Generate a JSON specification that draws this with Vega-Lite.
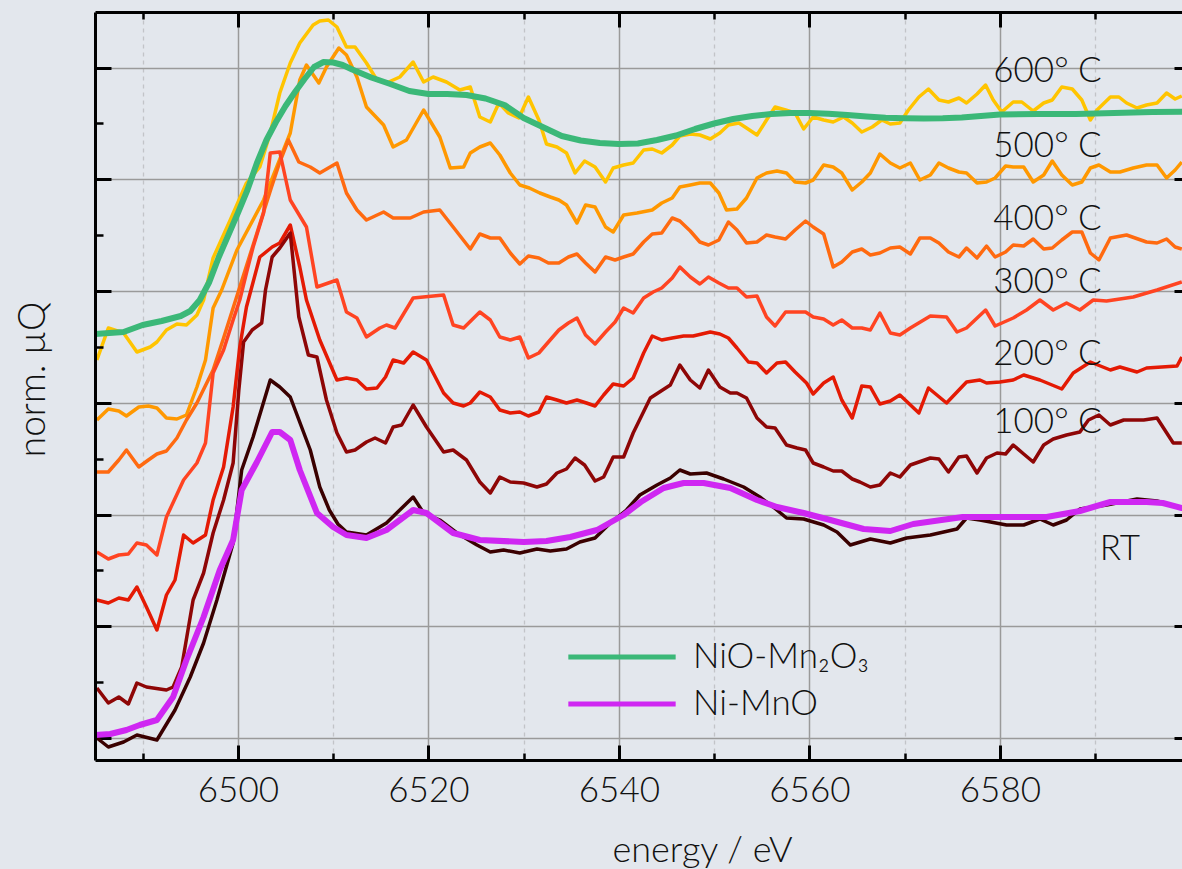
{
"$schema":"https://vega.github.io/schema/vega-lite/v6.json",
"width":1087,"height":748,
"autosize":{"type":"none"},
"padding":{"left":95,"top":12,"right":0,"bottom":109},
"background":"#e3e7ed",
"config":{"view":{"stroke":null},"font":"Lato","axis":{"labelFont":"Lato","titleFont":"Lato","titleFontWeight":300,"labelFontWeight":300,"labelColor":"#111111","titleColor":"#111111","tickColor":"#000000","domainColor":"#000000"},"legend":{"labelFont":"Lato","labelFontWeight":300}},
"datasets":{
"t600":[{"e":6485.2,"v":4.00},{"e":6486.4,"v":4.32},{"e":6488,"v":4.27},{"e":6489.4,"v":4.08},{"e":6490.8,"v":4.13},{"e":6491.5,"v":4.18},{"e":6492.5,"v":4.30},{"e":6493.6,"v":4.36},{"e":6494.6,"v":4.35},{"e":6495.7,"v":4.45},{"e":6496.4,"v":4.60},{"e":6497.4,"v":5.02},{"e":6499.2,"v":5.40},{"e":6500.9,"v":5.77},{"e":6502.3,"v":5.93},{"e":6503.4,"v":6.27},{"e":6504.4,"v":6.67},{"e":6505.5,"v":6.97},{"e":6506.5,"v":7.17},{"e":6507.9,"v":7.35},{"e":6508.6,"v":7.39},{"e":6509.5,"v":7.40},{"e":6510.4,"v":7.33},{"e":6511.4,"v":7.13},{"e":6512.3,"v":7.13},{"e":6513.5,"v":6.97},{"e":6514.6,"v":6.80},{"e":6515.6,"v":6.77},{"e":6517,"v":6.83},{"e":6518.4,"v":6.98},{"e":6519.5,"v":6.78},{"e":6520.5,"v":6.83},{"e":6521.9,"v":6.78},{"e":6523.3,"v":6.70},{"e":6524.4,"v":6.73},{"e":6525.4,"v":6.43},{"e":6526.5,"v":6.38},{"e":6527.4,"v":6.57},{"e":6528.4,"v":6.47},{"e":6529.5,"v":6.42},{"e":6530.5,"v":6.63},{"e":6531.6,"v":6.40},{"e":6532.4,"v":6.16},{"e":6533.5,"v":6.13},{"e":6534.5,"v":6.07},{"e":6535.4,"v":5.87},{"e":6536.4,"v":5.99},{"e":6537.5,"v":5.93},{"e":6538.6,"v":5.78},{"e":6539.4,"v":5.92},{"e":6540.5,"v":5.95},{"e":6541.5,"v":5.97},{"e":6542.6,"v":6.10},{"e":6543.5,"v":6.11},{"e":6544.5,"v":6.07},{"e":6545.6,"v":6.15},{"e":6546.4,"v":6.24},{"e":6547.5,"v":6.26},{"e":6548.5,"v":6.25},{"e":6549.6,"v":6.21},{"e":6550.6,"v":6.27},{"e":6551.5,"v":6.35},{"e":6552.6,"v":6.37},{"e":6553.4,"v":6.32},{"e":6554.5,"v":6.25},{"e":6555.5,"v":6.40},{"e":6556.4,"v":6.53},{"e":6557.5,"v":6.50},{"e":6558.5,"v":6.47},{"e":6559.4,"v":6.31},{"e":6560.4,"v":6.43},{"e":6561.5,"v":6.40},{"e":6562.5,"v":6.38},{"e":6563.6,"v":6.43},{"e":6564.5,"v":6.37},{"e":6565.5,"v":6.28},{"e":6566.6,"v":6.33},{"e":6567.6,"v":6.40},{"e":6568.5,"v":6.36},{"e":6569.5,"v":6.37},{"e":6570.4,"v":6.50},{"e":6571.5,"v":6.63},{"e":6572.5,"v":6.71},{"e":6573.6,"v":6.60},{"e":6574.6,"v":6.58},{"e":6575.7,"v":6.62},{"e":6576.5,"v":6.57},{"e":6577.6,"v":6.66},{"e":6578.5,"v":6.75},{"e":6579.3,"v":6.60},{"e":6580.2,"v":6.48},{"e":6581.4,"v":6.58},{"e":6582.3,"v":6.58},{"e":6583.5,"v":6.49},{"e":6584.6,"v":6.57},{"e":6585.5,"v":6.60},{"e":6586.5,"v":6.73},{"e":6587.6,"v":6.71},{"e":6588.6,"v":6.60},{"e":6589.5,"v":6.40},{"e":6590.2,"v":6.50},{"e":6591.6,"v":6.63},{"e":6592.5,"v":6.63},{"e":6593.3,"v":6.57},{"e":6594.4,"v":6.52},{"e":6595.4,"v":6.55},{"e":6596.5,"v":6.57},{"e":6597.5,"v":6.67},{"e":6598.4,"v":6.61},{"e":6599.1,"v":6.64}],
"t500":[{"e":6485.2,"v":3.40},{"e":6486.4,"v":3.51},{"e":6487.5,"v":3.49},{"e":6488.3,"v":3.44},{"e":6489.6,"v":3.53},{"e":6490.6,"v":3.54},{"e":6491.5,"v":3.52},{"e":6492.5,"v":3.42},{"e":6493.6,"v":3.41},{"e":6494.6,"v":3.45},{"e":6495.7,"v":3.73},{"e":6496.6,"v":4.00},{"e":6497.4,"v":4.52},{"e":6498.3,"v":4.70},{"e":6499.9,"v":5.10},{"e":6502.7,"v":5.60},{"e":6505.5,"v":6.27},{"e":6506.5,"v":6.80},{"e":6507.2,"v":6.95},{"e":6508.5,"v":6.77},{"e":6509.3,"v":6.93},{"e":6510.6,"v":7.12},{"e":6511.4,"v":7.05},{"e":6512.5,"v":6.83},{"e":6513.5,"v":6.53},{"e":6515.3,"v":6.35},{"e":6516.3,"v":6.13},{"e":6517.7,"v":6.20},{"e":6519.5,"v":6.50},{"e":6521.2,"v":6.23},{"e":6522.3,"v":5.92},{"e":6523.7,"v":5.93},{"e":6524.4,"v":6.07},{"e":6525.4,"v":6.13},{"e":6526.5,"v":6.17},{"e":6527.5,"v":6.05},{"e":6528.6,"v":5.87},{"e":6529.6,"v":5.75},{"e":6530.6,"v":5.72},{"e":6531.7,"v":5.67},{"e":6532.8,"v":5.63},{"e":6533.7,"v":5.60},{"e":6534.5,"v":5.55},{"e":6535.6,"v":5.37},{"e":6536.5,"v":5.55},{"e":6537.5,"v":5.53},{"e":6538.6,"v":5.33},{"e":6539.4,"v":5.28},{"e":6540.5,"v":5.45},{"e":6541.9,"v":5.47},{"e":6543.5,"v":5.50},{"e":6544.5,"v":5.57},{"e":6545.6,"v":5.62},{"e":6546.4,"v":5.73},{"e":6547.5,"v":5.75},{"e":6548.5,"v":5.77},{"e":6549.6,"v":5.77},{"e":6550.5,"v":5.67},{"e":6551.3,"v":5.50},{"e":6552.4,"v":5.51},{"e":6553.4,"v":5.62},{"e":6554.5,"v":5.82},{"e":6555.5,"v":5.87},{"e":6556.6,"v":5.89},{"e":6557.6,"v":5.87},{"e":6558.5,"v":5.78},{"e":6559.6,"v":5.77},{"e":6560.4,"v":5.80},{"e":6561.5,"v":5.95},{"e":6562.5,"v":5.93},{"e":6563.4,"v":5.87},{"e":6564.5,"v":5.70},{"e":6565.5,"v":5.78},{"e":6566.4,"v":5.87},{"e":6567.4,"v":6.06},{"e":6568.5,"v":5.97},{"e":6569.5,"v":5.92},{"e":6570.6,"v":5.97},{"e":6571.6,"v":5.80},{"e":6572.7,"v":5.85},{"e":6573.6,"v":5.97},{"e":6574.6,"v":5.92},{"e":6575.7,"v":5.88},{"e":6576.5,"v":5.87},{"e":6577.6,"v":5.77},{"e":6578.6,"v":5.78},{"e":6579.5,"v":5.82},{"e":6580.6,"v":5.94},{"e":6581.4,"v":5.93},{"e":6582.5,"v":5.93},{"e":6583.5,"v":5.78},{"e":6584.6,"v":5.85},{"e":6585.5,"v":5.99},{"e":6586.5,"v":5.85},{"e":6587.6,"v":5.75},{"e":6588.6,"v":5.78},{"e":6589.5,"v":5.92},{"e":6590.4,"v":5.95},{"e":6591.6,"v":5.88},{"e":6592.6,"v":5.88},{"e":6594,"v":5.92},{"e":6595.4,"v":5.95},{"e":6596.5,"v":5.95},{"e":6597.5,"v":5.82},{"e":6598.4,"v":5.90},{"e":6599.1,"v":5.98}],
"t400":[{"e":6485.2,"v":2.88},{"e":6486.4,"v":2.88},{"e":6487.5,"v":3.00},{"e":6488.3,"v":3.10},{"e":6489.6,"v":2.93},{"e":6490.6,"v":3.00},{"e":6491.5,"v":3.06},{"e":6492.5,"v":3.09},{"e":6493.6,"v":3.22},{"e":6494.6,"v":3.40},{"e":6495.7,"v":3.57},{"e":6497.4,"v":3.90},{"e":6498.5,"v":4.22},{"e":6499.5,"v":4.52},{"e":6500.5,"v":4.82},{"e":6501.5,"v":5.12},{"e":6502.5,"v":5.42},{"e":6503.5,"v":5.72},{"e":6504.4,"v":5.98},{"e":6505.3,"v":6.20},{"e":6506.4,"v":5.98},{"e":6507.6,"v":5.93},{"e":6508.6,"v":5.87},{"e":6510.4,"v":5.97},{"e":6511.4,"v":5.67},{"e":6512.5,"v":5.50},{"e":6513.5,"v":5.40},{"e":6515.3,"v":5.48},{"e":6516.3,"v":5.42},{"e":6518.1,"v":5.42},{"e":6519.5,"v":5.48},{"e":6521.2,"v":5.50},{"e":6522.6,"v":5.33},{"e":6524.4,"v":5.11},{"e":6525.4,"v":5.26},{"e":6526.5,"v":5.22},{"e":6527.5,"v":5.22},{"e":6528.6,"v":5.07},{"e":6529.6,"v":4.96},{"e":6530.5,"v":5.04},{"e":6531.6,"v":5.02},{"e":6532.6,"v":4.97},{"e":6533.7,"v":4.97},{"e":6534.7,"v":5.03},{"e":6535.6,"v":5.06},{"e":6536.5,"v":4.97},{"e":6537.5,"v":4.88},{"e":6538.6,"v":5.03},{"e":6539.6,"v":5.00},{"e":6540.5,"v":5.03},{"e":6541.5,"v":5.06},{"e":6542.6,"v":5.18},{"e":6543.5,"v":5.26},{"e":6544.5,"v":5.27},{"e":6545.6,"v":5.42},{"e":6546.4,"v":5.39},{"e":6547.5,"v":5.29},{"e":6548.5,"v":5.18},{"e":6549.4,"v":5.15},{"e":6550.5,"v":5.20},{"e":6551.5,"v":5.38},{"e":6552.4,"v":5.30},{"e":6553.4,"v":5.17},{"e":6554.5,"v":5.18},{"e":6555.5,"v":5.25},{"e":6556.4,"v":5.23},{"e":6557.5,"v":5.21},{"e":6558.5,"v":5.30},{"e":6559.6,"v":5.39},{"e":6560.4,"v":5.33},{"e":6561.5,"v":5.26},{"e":6562.5,"v":4.93},{"e":6563.4,"v":4.98},{"e":6564.5,"v":5.08},{"e":6565.5,"v":5.11},{"e":6566.4,"v":5.05},{"e":6567.4,"v":5.07},{"e":6568.5,"v":5.12},{"e":6569.5,"v":5.13},{"e":6570.6,"v":5.06},{"e":6571.6,"v":5.22},{"e":6572.7,"v":5.22},{"e":6573.6,"v":5.17},{"e":6574.6,"v":5.08},{"e":6575.7,"v":5.03},{"e":6576.5,"v":5.12},{"e":6577.6,"v":5.02},{"e":6578.6,"v":5.14},{"e":6579.5,"v":5.03},{"e":6580.6,"v":5.08},{"e":6581.4,"v":5.15},{"e":6582.5,"v":5.14},{"e":6583.5,"v":5.21},{"e":6584.6,"v":5.11},{"e":6585.5,"v":5.12},{"e":6586.5,"v":5.20},{"e":6587.6,"v":5.28},{"e":6588.6,"v":5.28},{"e":6589.5,"v":5.07},{"e":6590.4,"v":5.00},{"e":6591.6,"v":5.22},{"e":6593.3,"v":5.25},{"e":6595.4,"v":5.18},{"e":6596.5,"v":5.17},{"e":6597.5,"v":5.21},{"e":6598.4,"v":5.13},{"e":6599.1,"v":5.11}],
"t300":[{"e":6485.2,"v":2.08},{"e":6486.4,"v":2.01},{"e":6487.5,"v":2.05},{"e":6488.5,"v":2.06},{"e":6489.4,"v":2.17},{"e":6490.4,"v":2.15},{"e":6491.5,"v":2.05},{"e":6492.5,"v":2.43},{"e":6494.3,"v":2.80},{"e":6495.7,"v":2.97},{"e":6496.6,"v":3.17},{"e":6497.4,"v":3.87},{"e":6498.5,"v":4.10},{"e":6499.5,"v":4.40},{"e":6500.2,"v":4.60},{"e":6500.9,"v":4.87},{"e":6501.6,"v":5.13},{"e":6502.7,"v":5.47},{"e":6503.4,"v":6.07},{"e":6504.4,"v":6.08},{"e":6505.5,"v":5.60},{"e":6507.2,"v":5.33},{"e":6508.3,"v":4.73},{"e":6510.4,"v":4.80},{"e":6511.4,"v":4.48},{"e":6512.5,"v":4.42},{"e":6513.5,"v":4.23},{"e":6514.9,"v":4.32},{"e":6515.6,"v":4.35},{"e":6516.5,"v":4.32},{"e":6518.4,"v":4.62},{"e":6521.6,"v":4.65},{"e":6522.6,"v":4.35},{"e":6523.7,"v":4.32},{"e":6525.4,"v":4.48},{"e":6526.5,"v":4.40},{"e":6527.5,"v":4.23},{"e":6528.6,"v":4.20},{"e":6529.6,"v":4.23},{"e":6530.5,"v":4.02},{"e":6531.6,"v":4.07},{"e":6532.6,"v":4.18},{"e":6533.7,"v":4.30},{"e":6534.7,"v":4.37},{"e":6535.6,"v":4.42},{"e":6536.5,"v":4.25},{"e":6537.5,"v":4.16},{"e":6538.6,"v":4.28},{"e":6539.6,"v":4.38},{"e":6540.5,"v":4.52},{"e":6541.5,"v":4.47},{"e":6542.6,"v":4.62},{"e":6543.6,"v":4.68},{"e":6544.5,"v":4.72},{"e":6545.6,"v":4.82},{"e":6546.4,"v":4.93},{"e":6547.5,"v":4.83},{"e":6548.5,"v":4.76},{"e":6549.4,"v":4.83},{"e":6550.5,"v":4.77},{"e":6551.5,"v":4.72},{"e":6552.4,"v":4.72},{"e":6553.4,"v":4.63},{"e":6554.5,"v":4.64},{"e":6555.5,"v":4.43},{"e":6556.4,"v":4.34},{"e":6557.5,"v":4.48},{"e":6558.5,"v":4.48},{"e":6559.6,"v":4.48},{"e":6560.4,"v":4.43},{"e":6561.5,"v":4.41},{"e":6562.5,"v":4.35},{"e":6563.4,"v":4.40},{"e":6564.5,"v":4.32},{"e":6565.5,"v":4.32},{"e":6566.4,"v":4.30},{"e":6567.4,"v":4.47},{"e":6568.5,"v":4.27},{"e":6569.5,"v":4.25},{"e":6570.6,"v":4.32},{"e":6572.7,"v":4.44},{"e":6574.4,"v":4.43},{"e":6575.5,"v":4.28},{"e":6576.5,"v":4.32},{"e":6578.5,"v":4.50},{"e":6579.5,"v":4.34},{"e":6581.4,"v":4.42},{"e":6582.8,"v":4.50},{"e":6584.2,"v":4.60},{"e":6585.6,"v":4.50},{"e":6587,"v":4.57},{"e":6588.4,"v":4.50},{"e":6589.8,"v":4.60},{"e":6591.2,"v":4.59},{"e":6594,"v":4.63},{"e":6596.5,"v":4.70},{"e":6599.1,"v":4.78}],
"t200":[{"e":6485.2,"v":1.60},{"e":6486.4,"v":1.57},{"e":6487.5,"v":1.62},{"e":6488.5,"v":1.60},{"e":6489.4,"v":1.73},{"e":6490.4,"v":1.53},{"e":6491.5,"v":1.30},{"e":6492.5,"v":1.65},{"e":6493.4,"v":1.80},{"e":6494.3,"v":2.25},{"e":6495.3,"v":2.17},{"e":6496.6,"v":2.25},{"e":6497.4,"v":2.60},{"e":6498.5,"v":2.93},{"e":6499.5,"v":3.53},{"e":6500.2,"v":4.13},{"e":6500.9,"v":4.53},{"e":6502.3,"v":5.03},{"e":6503.6,"v":5.13},{"e":6504.4,"v":5.17},{"e":6505.5,"v":5.35},{"e":6506.5,"v":4.93},{"e":6507.2,"v":4.60},{"e":6508.6,"v":4.20},{"e":6510.4,"v":3.80},{"e":6511.4,"v":3.82},{"e":6512.5,"v":3.80},{"e":6513.5,"v":3.71},{"e":6514.6,"v":3.72},{"e":6515.5,"v":3.83},{"e":6516.3,"v":4.00},{"e":6517.4,"v":3.97},{"e":6518.4,"v":4.08},{"e":6519.8,"v":4.00},{"e":6521.6,"v":3.67},{"e":6522.6,"v":3.57},{"e":6523.7,"v":3.54},{"e":6524.4,"v":3.57},{"e":6525.4,"v":3.68},{"e":6526.5,"v":3.63},{"e":6527.5,"v":3.50},{"e":6528.6,"v":3.47},{"e":6529.6,"v":3.48},{"e":6530.5,"v":3.44},{"e":6531.6,"v":3.48},{"e":6532.4,"v":3.63},{"e":6533.5,"v":3.60},{"e":6534.5,"v":3.57},{"e":6535.6,"v":3.60},{"e":6536.6,"v":3.57},{"e":6537.5,"v":3.54},{"e":6538.4,"v":3.65},{"e":6539.4,"v":3.76},{"e":6540.5,"v":3.74},{"e":6541.5,"v":3.82},{"e":6542.6,"v":4.07},{"e":6543.5,"v":4.24},{"e":6544.5,"v":4.20},{"e":6545.6,"v":4.22},{"e":6546.8,"v":4.24},{"e":6547.8,"v":4.24},{"e":6549.6,"v":4.28},{"e":6550.6,"v":4.26},{"e":6551.5,"v":4.22},{"e":6552.4,"v":4.12},{"e":6553.6,"v":3.98},{"e":6554.5,"v":3.97},{"e":6555.5,"v":3.87},{"e":6556.6,"v":3.97},{"e":6557.5,"v":3.98},{"e":6558.5,"v":3.88},{"e":6559.7,"v":3.77},{"e":6560.4,"v":3.66},{"e":6561.5,"v":3.77},{"e":6562.5,"v":3.83},{"e":6563.4,"v":3.60},{"e":6564.5,"v":3.42},{"e":6565.5,"v":3.74},{"e":6566.4,"v":3.73},{"e":6567.4,"v":3.56},{"e":6568.5,"v":3.59},{"e":6569.5,"v":3.65},{"e":6571.5,"v":3.47},{"e":6572.5,"v":3.72},{"e":6574.4,"v":3.57},{"e":6576.5,"v":3.78},{"e":6577.9,"v":3.80},{"e":6578.6,"v":3.77},{"e":6580,"v":3.78},{"e":6581.4,"v":3.80},{"e":6582.5,"v":3.85},{"e":6584.2,"v":3.80},{"e":6586.5,"v":3.71},{"e":6587.7,"v":3.87},{"e":6589.5,"v":3.98},{"e":6591.6,"v":3.90},{"e":6592.6,"v":3.93},{"e":6594.4,"v":3.88},{"e":6595.4,"v":3.92},{"e":6598.6,"v":3.94},{"e":6599.1,"v":4.03}],
"t100":[{"e":6485.2,"v":0.72},{"e":6486.4,"v":0.57},{"e":6487.5,"v":0.63},{"e":6488.5,"v":0.56},{"e":6489.4,"v":0.77},{"e":6490.4,"v":0.73},{"e":6492.5,"v":0.70},{"e":6493.2,"v":0.73},{"e":6494.1,"v":0.93},{"e":6495.3,"v":1.60},{"e":6496.4,"v":1.87},{"e":6497.4,"v":2.27},{"e":6498.5,"v":2.60},{"e":6499.5,"v":2.97},{"e":6500.1,"v":3.70},{"e":6500.6,"v":4.18},{"e":6501.5,"v":4.30},{"e":6502.5,"v":4.37},{"e":6502.9,"v":4.70},{"e":6503.6,"v":5.03},{"e":6504.4,"v":5.12},{"e":6505.5,"v":5.27},{"e":6506.4,"v":4.43},{"e":6507.4,"v":4.05},{"e":6508.3,"v":4.03},{"e":6509.3,"v":3.60},{"e":6510.4,"v":3.27},{"e":6511.4,"v":3.08},{"e":6512.3,"v":3.10},{"e":6513.5,"v":3.18},{"e":6514.4,"v":3.22},{"e":6515.5,"v":3.17},{"e":6516.3,"v":3.33},{"e":6517.2,"v":3.35},{"e":6518.4,"v":3.55},{"e":6519.8,"v":3.33},{"e":6521.6,"v":3.08},{"e":6522.6,"v":3.10},{"e":6524,"v":3.00},{"e":6525.4,"v":2.78},{"e":6526.5,"v":2.67},{"e":6527.5,"v":2.83},{"e":6528.6,"v":2.78},{"e":6530,"v":2.77},{"e":6531.4,"v":2.73},{"e":6532.4,"v":2.76},{"e":6533.5,"v":2.87},{"e":6534.5,"v":2.91},{"e":6535.4,"v":3.02},{"e":6536.4,"v":2.95},{"e":6537.5,"v":2.79},{"e":6538.4,"v":2.83},{"e":6539.4,"v":3.03},{"e":6540.5,"v":3.03},{"e":6541.5,"v":3.27},{"e":6543.3,"v":3.62},{"e":6545.4,"v":3.75},{"e":6546.4,"v":3.95},{"e":6547.5,"v":3.80},{"e":6548.5,"v":3.72},{"e":6549.4,"v":3.90},{"e":6550.6,"v":3.73},{"e":6551.7,"v":3.67},{"e":6552.4,"v":3.67},{"e":6553.4,"v":3.62},{"e":6554.5,"v":3.42},{"e":6555.5,"v":3.33},{"e":6556.4,"v":3.32},{"e":6557.6,"v":3.15},{"e":6558.7,"v":3.12},{"e":6559.6,"v":3.10},{"e":6560.4,"v":2.97},{"e":6561.5,"v":2.93},{"e":6562.5,"v":2.89},{"e":6563.4,"v":2.89},{"e":6564.5,"v":2.81},{"e":6565.3,"v":2.78},{"e":6566.4,"v":2.73},{"e":6567.4,"v":2.75},{"e":6568.5,"v":2.87},{"e":6569.5,"v":2.83},{"e":6570.6,"v":2.95},{"e":6572.7,"v":3.02},{"e":6573.6,"v":3.01},{"e":6574.6,"v":2.88},{"e":6575.7,"v":3.03},{"e":6576.5,"v":3.04},{"e":6577.6,"v":2.87},{"e":6578.6,"v":3.02},{"e":6579.7,"v":3.07},{"e":6580.6,"v":3.06},{"e":6581.4,"v":3.15},{"e":6582.5,"v":3.06},{"e":6583.5,"v":2.98},{"e":6584.6,"v":3.15},{"e":6585.6,"v":3.21},{"e":6587,"v":3.25},{"e":6588.4,"v":3.28},{"e":6589.3,"v":3.40},{"e":6590.4,"v":3.45},{"e":6591.6,"v":3.35},{"e":6593,"v":3.40},{"e":6595.1,"v":3.40},{"e":6596.5,"v":3.42},{"e":6598.2,"v":3.17},{"e":6599.1,"v":3.17}],
"rt":[{"e":6485.2,"v":0.22},{"e":6486.4,"v":0.13},{"e":6488,"v":0.18},{"e":6489.4,"v":0.25},{"e":6491.5,"v":0.20},{"e":6493.4,"v":0.50},{"e":6495,"v":0.83},{"e":6496.4,"v":1.17},{"e":6497.8,"v":1.60},{"e":6499.5,"v":2.17},{"e":6500.4,"v":2.90},{"e":6501.6,"v":3.23},{"e":6503.4,"v":3.80},{"e":6504.4,"v":3.73},{"e":6505.5,"v":3.63},{"e":6507.6,"v":3.10},{"e":6508.6,"v":2.73},{"e":6509.6,"v":2.50},{"e":6510.5,"v":2.36},{"e":6511.4,"v":2.28},{"e":6513.5,"v":2.25},{"e":6515.6,"v":2.37},{"e":6518.4,"v":2.63},{"e":6519.5,"v":2.47},{"e":6521.2,"v":2.40},{"e":6523,"v":2.27},{"e":6525.1,"v":2.15},{"e":6526.5,"v":2.08},{"e":6527.9,"v":2.10},{"e":6529.6,"v":2.07},{"e":6531.4,"v":2.11},{"e":6532.8,"v":2.09},{"e":6534.5,"v":2.11},{"e":6535.9,"v":2.18},{"e":6537.5,"v":2.22},{"e":6539.1,"v":2.37},{"e":6540.8,"v":2.50},{"e":6542.2,"v":2.65},{"e":6544,"v":2.75},{"e":6545.4,"v":2.82},{"e":6546.4,"v":2.90},{"e":6547.5,"v":2.86},{"e":6549.2,"v":2.87},{"e":6551,"v":2.81},{"e":6553.1,"v":2.73},{"e":6554.8,"v":2.63},{"e":6556.2,"v":2.53},{"e":6557.6,"v":2.42},{"e":6559.4,"v":2.41},{"e":6561.5,"v":2.35},{"e":6562.9,"v":2.28},{"e":6564.3,"v":2.15},{"e":6566.4,"v":2.21},{"e":6568.5,"v":2.17},{"e":6570.2,"v":2.22},{"e":6572.7,"v":2.25},{"e":6575.5,"v":2.31},{"e":6576.5,"v":2.42},{"e":6577.9,"v":2.40},{"e":6580.7,"v":2.35},{"e":6582.5,"v":2.35},{"e":6584.2,"v":2.41},{"e":6585.6,"v":2.35},{"e":6587,"v":2.40},{"e":6588.4,"v":2.51},{"e":6591.2,"v":2.55},{"e":6594.4,"v":2.61},{"e":6596.5,"v":2.59},{"e":6599.1,"v":2.52}],
"nio":[{"e":6485,"v":4.26},{"e":6488,"v":4.28},{"e":6490,"v":4.35},{"e":6492,"v":4.39},{"e":6494,"v":4.44},{"e":6495,"v":4.49},{"e":6496,"v":4.60},{"e":6497,"v":4.78},{"e":6498,"v":5.03},{"e":6499,"v":5.25},{"e":6500,"v":5.47},{"e":6501,"v":5.70},{"e":6502,"v":5.97},{"e":6503,"v":6.20},{"e":6504,"v":6.38},{"e":6505,"v":6.54},{"e":6506,"v":6.68},{"e":6507,"v":6.81},{"e":6508,"v":6.93},{"e":6509,"v":6.98},{"e":6510,"v":6.975},{"e":6511,"v":6.95},{"e":6512,"v":6.905},{"e":6514,"v":6.825},{"e":6516,"v":6.76},{"e":6518,"v":6.69},{"e":6520,"v":6.66},{"e":6522,"v":6.66},{"e":6524,"v":6.65},{"e":6526,"v":6.615},{"e":6528,"v":6.55},{"e":6530,"v":6.42},{"e":6532,"v":6.33},{"e":6534,"v":6.24},{"e":6536,"v":6.195},{"e":6538,"v":6.17},{"e":6540,"v":6.16},{"e":6542,"v":6.165},{"e":6544,"v":6.20},{"e":6546,"v":6.245},{"e":6548,"v":6.31},{"e":6550,"v":6.365},{"e":6552,"v":6.41},{"e":6554,"v":6.44},{"e":6556,"v":6.46},{"e":6558,"v":6.47},{"e":6560,"v":6.47},{"e":6562,"v":6.463},{"e":6564,"v":6.45},{"e":6566,"v":6.435},{"e":6568,"v":6.422},{"e":6570,"v":6.417},{"e":6572,"v":6.415},{"e":6574,"v":6.417},{"e":6576,"v":6.425},{"e":6578,"v":6.44},{"e":6580,"v":6.455},{"e":6584,"v":6.46},{"e":6588,"v":6.46},{"e":6592,"v":6.47},{"e":6596,"v":6.48},{"e":6599.1,"v":6.483}],
"ni":[{"e":6485,"v":0.25},{"e":6486.6,"v":0.26},{"e":6488.3,"v":0.30},{"e":6489.7,"v":0.35},{"e":6491.5,"v":0.40},{"e":6493.2,"v":0.63},{"e":6494.6,"v":1.00},{"e":6496.4,"v":1.43},{"e":6498.1,"v":1.90},{"e":6499.5,"v":2.20},{"e":6500.4,"v":2.70},{"e":6502,"v":2.98},{"e":6503.6,"v":3.28},{"e":6504.4,"v":3.28},{"e":6505.5,"v":3.20},{"e":6506.5,"v":2.90},{"e":6508.3,"v":2.47},{"e":6510,"v":2.33},{"e":6511.4,"v":2.25},{"e":6513.5,"v":2.22},{"e":6515.6,"v":2.30},{"e":6518.4,"v":2.50},{"e":6519.8,"v":2.47},{"e":6522.6,"v":2.27},{"e":6525.4,"v":2.20},{"e":6530,"v":2.18},{"e":6532.4,"v":2.19},{"e":6534.9,"v":2.23},{"e":6537.7,"v":2.30},{"e":6540.5,"v":2.45},{"e":6542.3,"v":2.58},{"e":6544.7,"v":2.72},{"e":6546.8,"v":2.77},{"e":6548.9,"v":2.77},{"e":6551.7,"v":2.72},{"e":6554.5,"v":2.60},{"e":6556.6,"v":2.53},{"e":6559.4,"v":2.47},{"e":6562.2,"v":2.40},{"e":6565.7,"v":2.31},{"e":6568.5,"v":2.29},{"e":6570.9,"v":2.36},{"e":6576.1,"v":2.43},{"e":6580,"v":2.43},{"e":6584.9,"v":2.43},{"e":6588.4,"v":2.49},{"e":6591.6,"v":2.58},{"e":6595.4,"v":2.58},{"e":6597.1,"v":2.57},{"e":6599.1,"v":2.52}],
"lab":[{"e":6585,"v":6.78,"t":"600° C"},{"e":6585,"v":6.03,"t":"500° C"},{"e":6585,"v":5.30,"t":"400° C"},{"e":6585,"v":4.67,"t":"300° C"},{"e":6585,"v":3.95,"t":"200° C"},{"e":6585,"v":3.27,"t":"100° C"},{"e":6592.6,"v":2.00,"t":"RT"}]
},
"resolve":{"axis":{"x":"independent","y":"independent"}},
"layer":[
{"data":{"name":"t600"},"mark":{"type":"line","color":"#ffc400","strokeWidth":3.5,"strokeJoin":"round","clip":true},
"encoding":{
"x":{"field":"e","type":"quantitative","scale":{"domain":[6485,6599.12],"nice":false,"zero":false},
"axis":{"orient":"bottom","values":[6500,6520,6540,6560,6580],"format":"d","grid":true,"gridColor":"#9a9a9a","gridWidth":1.5,"tickSize":-15,"tickWidth":3,"domain":false,"labelFontSize":35,"labelPadding":28,"labelFlush":false,"title":"energy / eV","titleFontSize":36,"titleX":607,"titleY":101,"titleAlign":"center","titleBaseline":"alphabetic","zindex":0}},
"y":{"field":"v","type":"quantitative","scale":{"domain":[0,7.48],"nice":false,"zero":false},
"axis":{"orient":"left","values":[0.218,1.337,2.455,3.573,4.69,5.807,6.923],"grid":true,"gridColor":"#9a9a9a","gridWidth":1.5,"tickSize":-16,"tickWidth":3,"domain":false,"labels":false,"title":"norm. µQ","titleFontSize":37,"titleX":-51,"titleY":367,"titleAlign":"center","titleBaseline":"alphabetic","zindex":0}}}},
{"data":{"name":"t500"},"mark":{"type":"line","color":"#ff9800","strokeWidth":3.5,"strokeJoin":"round","clip":true},
"encoding":{
"x":{"field":"e","type":"quantitative","axis":{"orient":"top","values":[6490,6510,6530,6550,6570,6590],"grid":true,"gridColor":"#c2c4c8","gridDash":[4,4],"gridWidth":1.3,"tickSize":-7,"tickWidth":2.5,"domain":false,"labels":false,"title":null,"zindex":0}},
"y":{"field":"v","type":"quantitative","axis":{"orient":"left","values":[0.777,1.896,3.014,4.131,5.249,6.365],"grid":false,"tickSize":-8,"tickWidth":2.5,"domain":true,"domainWidth":3,"labels":false,"title":null,"zindex":1}}}},
{"data":{"name":"t400"},"mark":{"type":"line","color":"#ff6a10","strokeWidth":3.5,"strokeJoin":"round","clip":true},
"encoding":{
"x":{"field":"e","type":"quantitative","axis":{"orient":"top","values":[6500,6520,6540,6560,6580],"grid":false,"tickSize":-15,"tickWidth":3,"domain":true,"domainWidth":3,"labels":false,"title":null,"zindex":1}},
"y":{"field":"v","type":"quantitative","axis":{"orient":"right","offset":8,"values":[0.218,1.337,2.455,3.573,4.69,5.807,6.923],"grid":false,"tickSize":-16,"tickWidth":3,"domain":true,"domainWidth":3,"labels":false,"title":null,"zindex":1}}}},
{"data":{"name":"t300"},"mark":{"type":"line","color":"#ff4422","strokeWidth":3.5,"strokeJoin":"round","clip":true},
"encoding":{
"x":{"field":"e","type":"quantitative","axis":{"orient":"bottom","values":[6490,6510,6530,6550,6570,6590],"grid":false,"tickSize":-7,"tickWidth":2.5,"domain":true,"domainWidth":3,"labels":false,"title":null,"zindex":1}},
"y":{"field":"v","type":"quantitative","axis":{"orient":"right","offset":8,"values":[0.777,1.896,3.014,4.131,5.249,6.365],"grid":false,"tickSize":-8,"tickWidth":2.5,"domain":false,"labels":false,"title":null,"zindex":1}}}},
{"data":{"name":"t200"},"mark":{"type":"line","color":"#e41a04","strokeWidth":3.5,"strokeJoin":"round","clip":true},
"encoding":{"x":{"field":"e","type":"quantitative","axis":null},"y":{"field":"v","type":"quantitative","axis":null}}},
{"data":{"name":"t100"},"mark":{"type":"line","color":"#8e0606","strokeWidth":3.5,"strokeJoin":"round","clip":true},
"encoding":{"x":{"field":"e","type":"quantitative","axis":null},"y":{"field":"v","type":"quantitative","axis":null}}},
{"data":{"name":"rt"},"mark":{"type":"line","color":"#3a0000","strokeWidth":3.5,"strokeJoin":"round","clip":true},
"encoding":{"x":{"field":"e","type":"quantitative","axis":null},"y":{"field":"v","type":"quantitative","axis":null}}},
{"data":{"name":"nio"},"mark":{"type":"line","strokeWidth":6,"strokeJoin":"round","strokeCap":"round","clip":true},
"encoding":{"x":{"field":"e","type":"quantitative","axis":null},"y":{"field":"v","type":"quantitative","axis":null},
"color":{"datum":"NiO-Mn₂O₃","scale":{"domain":["NiO-Mn₂O₃","Ni-MnO"],"range":["#3bb878","#cf27f2"]},
"legend":{"orient":"none","legendX":502,"legendY":620,"title":null,"padding":0,"symbolType":"M-2.4,0H2.4","symbolSize":2000,"symbolStrokeWidth":5,"labelFontSize":35,"labelColor":"#111111","labelOffset":46,"labelLimit":500,"rowPadding":4}}}},
{"data":{"name":"ni"},"mark":{"type":"line","strokeWidth":6,"strokeJoin":"round","strokeCap":"round","clip":true},
"encoding":{"x":{"field":"e","type":"quantitative","axis":null},"y":{"field":"v","type":"quantitative","axis":null},
"color":{"datum":"Ni-MnO"}}},
{"data":{"name":"lab"},"mark":{"type":"text","fontSize":35,"font":"Lato","fontWeight":300,"color":"#111111","align":"center","baseline":"alphabetic"},
"encoding":{"x":{"field":"e","type":"quantitative","axis":null},"y":{"field":"v","type":"quantitative","axis":null},"text":{"field":"t"}}}
]
}
